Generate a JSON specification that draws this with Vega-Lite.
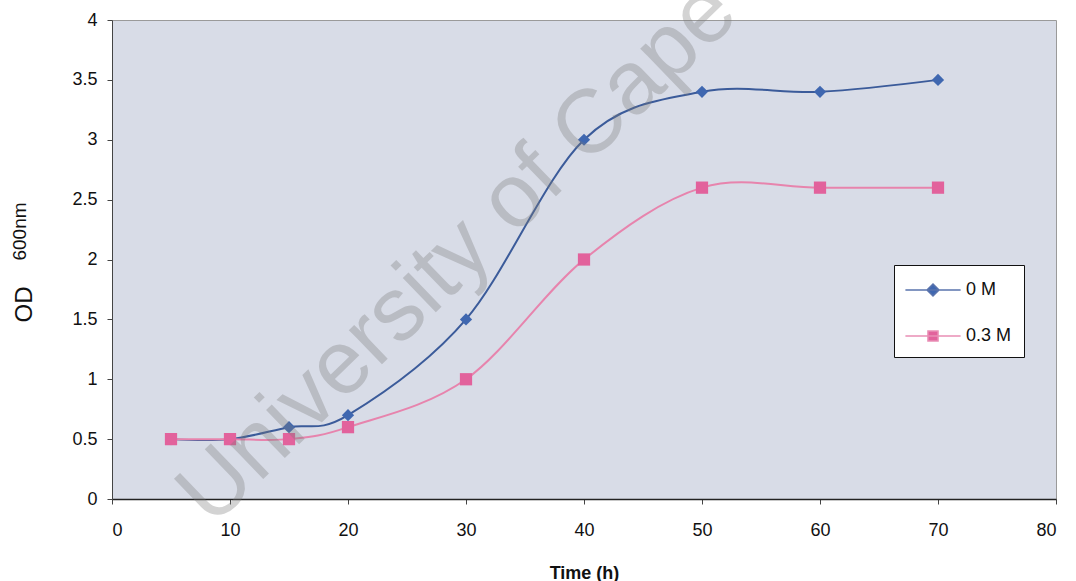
{
  "$schema": "https://vega.github.io/schema/vega-lite/v6.json",
  "width": 944,
  "height": 479,
  "autosize": {"type": "none"},
  "padding": {"left": 112, "top": 20, "right": 20, "bottom": 82},
  "background": "white",
  "config": {
    "font": "Liberation Sans",
    "view": {"fill": "#d8dce7", "stroke": "#9a9a9a", "strokeWidth": 1}
  },
  "data": {
    "values": [
      {"time": 5, "od": 0.5, "series": "0 M"},
      {"time": 10, "od": 0.5, "series": "0 M"},
      {"time": 15, "od": 0.6, "series": "0 M"},
      {"time": 20, "od": 0.7, "series": "0 M"},
      {"time": 30, "od": 1.5, "series": "0 M"},
      {"time": 40, "od": 3.0, "series": "0 M"},
      {"time": 50, "od": 3.4, "series": "0 M"},
      {"time": 60, "od": 3.4, "series": "0 M"},
      {"time": 70, "od": 3.5, "series": "0 M"},
      {"time": 5, "od": 0.5, "series": "0.3 M"},
      {"time": 10, "od": 0.5, "series": "0.3 M"},
      {"time": 15, "od": 0.5, "series": "0.3 M"},
      {"time": 20, "od": 0.6, "series": "0.3 M"},
      {"time": 30, "od": 1.0, "series": "0.3 M"},
      {"time": 40, "od": 2.0, "series": "0.3 M"},
      {"time": 50, "od": 2.6, "series": "0.3 M"},
      {"time": 60, "od": 2.6, "series": "0.3 M"},
      {"time": 70, "od": 2.6, "series": "0.3 M"}
    ]
  },
  "layer": [
    {
      "mark": {"type": "line", "interpolate": "cardinal", "strokeWidth": 2},
      "encoding": {
        "x": {
          "field": "time",
          "type": "quantitative",
          "scale": {"domain": [0, 80], "nice": false, "zero": false},
          "axis": {
            "values": [0, 10, 20, 30, 40, 50, 60, 70, 80],
            "format": "d",
            "grid": false,
            "domainColor": "#222222",
            "domainWidth": 1.5,
            "tickColor": "#444444",
            "tickSize": 5,
            "labelFontSize": 18,
            "labelColor": "#111111",
            "labelPadding": 17,
            "title": "Time (h)",
            "titleFontSize": 18,
            "titleFontWeight": "bold",
            "titleColor": "#111111",
            "titleBaseline": "alphabetic",
            "titleY": 79
          }
        },
        "y": {
          "field": "od",
          "type": "quantitative",
          "scale": {"domain": [0, 4], "nice": false},
          "axis": {
            "values": [0, 0.5, 1, 1.5, 2, 2.5, 3, 3.5, 4],
            "format": "~g",
            "grid": false,
            "domainColor": "#444444",
            "tickColor": "#444444",
            "tickSize": 5,
            "labelFontSize": 18,
            "labelColor": "#111111",
            "labelPadding": 10,
            "title": "OD",
            "titleFontSize": 24,
            "titleFontWeight": "normal",
            "titleColor": "#111111",
            "titleX": -76,
            "titleY": 284
          }
        },
        "color": {
          "field": "series",
          "type": "nominal",
          "scale": {"domain": ["0 M", "0.3 M"], "range": ["#3b5b9a", "#e784ad"]},
          "legend": null
        }
      }
    },
    {
      "mark": {"type": "point", "filled": true, "size": 150, "opacity": 1},
      "encoding": {
        "x": {"field": "time", "type": "quantitative"},
        "y": {
          "field": "od",
          "type": "quantitative",
          "axis": {
            "orient": "left",
            "labels": false,
            "ticks": false,
            "domain": false,
            "grid": false,
            "title": "600nm",
            "titleFontSize": 19,
            "titleFontWeight": "normal",
            "titleColor": "#111111",
            "titleX": -83,
            "titleY": 211
          }
        },
        "fill": {
          "field": "series",
          "type": "nominal",
          "scale": {"range": ["#3f67b0", "#e2629c"]},
          "legend": {
            "title": null,
            "orient": "none",
            "legendX": 782,
            "legendY": 245,
            "padding": 12,
            "strokeColor": "#111111",
            "fillColor": "#ffffff",
            "symbolSize": 576,
            "symbolOffset": 14,
            "symbolStrokeWidth": 1.5,
            "labelOffset": 20,
            "rowPadding": 24,
            "labelFontSize": 18,
            "labelColor": "#111111",
            "encoding": {
              "symbols": {
                "shape": {"value": {"expr": "datum.value === '0 M' ? 'M-2.3,0H2.3M0,-0.5L0.5,0L0,0.5L-0.5,0Z' : 'M-2.3,0H2.3M-0.42,-0.42H0.42V0.42H-0.42Z'"}},
                "stroke": {"value": {"expr": "datum.value === '0 M' ? '#5a74ad' : '#e98fb5'"}},
                "strokeWidth": {"value": 1.5},
                "opacity": {"value": 1}
              }
            }
          }
        },
        "shape": {
          "field": "series",
          "type": "nominal",
          "scale": {"domain": ["0 M", "0.3 M"], "range": ["diamond", "square"]},
          "legend": null
        }
      }
    },
    {
      "data": {"values": [{}]},
      "mark": {
        "type": "text",
        "text": "University of Cape",
        "angle": -44,
        "fontSize": 90,
        "font": "Liberation Sans",
        "color": "#7a7a7a",
        "opacity": 0.32,
        "align": "center",
        "baseline": "middle"
      },
      "encoding": {
        "x": {"datum": 29.3, "type": "quantitative"},
        "y": {"datum": 2.05, "type": "quantitative", "axis": null}
      }
    }
  ],
  "resolve": {"axis": {"y": "independent"}}
}
